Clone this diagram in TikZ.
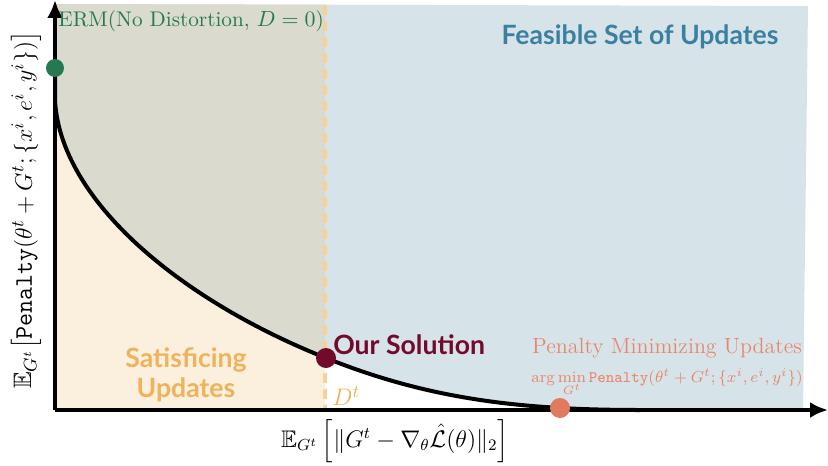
\documentclass[tikz,border=0pt]{standalone}
\usepackage{amsmath,amssymb}
\usepackage{fontspec}
\newfontfamily\labfont{Lato}[UprightFont=* Bold]
\usetikzlibrary{arrows.meta}
\definecolor{cgreen}{HTML}{247A4E}
\definecolor{cred}{HTML}{730A2C}
\definecolor{corange}{HTML}{E07B5F}
\definecolor{csalmon}{HTML}{E8866A}
\definecolor{csat}{HTML}{F0B25A}
\definecolor{cblue}{HTML}{3B80A0}
\definecolor{fgray}{HTML}{DADACE}
\definecolor{fblue}{HTML}{D6E4EA}
\definecolor{fpeach}{HTML}{FBEFDD}
\definecolor{cdash}{HTML}{F7D197}
\tikzset{
  axisline/.style={line width=1.8pt,-{Latex[length=9pt,width=8pt]}},
  frontier/.style={line width=2pt},
  dot/.style={circle,inner sep=0pt,minimum size=9pt},
  boldlab/.style={font=\labfont\fontsize{13.3}{15}\selectfont,align=center},
  mathlab/.style={font=\fontsize{11}{13}\selectfont},
}
\begin{document}
\begin{tikzpicture}[x=0.5pt,y=-0.5pt]
\useasboundingbox (0,0) rectangle (828,465);
\def\curve{(55,68) -- (55,100) .. controls (60,200) and (180,300) .. (326,358) .. controls (428,399) and (520,410) .. (640,410)}
% regions
\fill[fblue] \curve -- (803,410) -- (808,6) -- (55,4) -- cycle;
\begin{scope}
  \clip (55,0) rectangle (325,410);
  \fill[fgray] \curve -- (803,410) -- (808,6) -- (55,4) -- cycle;
  \fill[fpeach] \curve -- (55,410) -- cycle;
\end{scope}
% dashed threshold
\coordinate (dtop) at (325,5);
\coordinate (dbot) at (325,410);
\draw[cdash,line width=2pt,dash pattern=on 5pt off 3pt] (dtop) -- (dbot);
% axes
\coordinate (O) at (55,410);
\coordinate (ytop) at (55,0);
\coordinate (xend) at (828,410);
\draw[axisline] (O) -- (ytop);
\draw[axisline] (O) -- (xend);
% frontier
\draw[frontier] \curve;
% dots
\node[dot,fill=cgreen] (erm) at (55,68) {};
\node[dot,fill=cred,minimum size=10pt] (sol) at (326,358) {};
\node[dot,fill=corange,minimum size=10pt] (pen) at (560,408) {};
% labels
\node[text=cgreen,anchor=west,inner sep=0pt,font=\fontsize{10.6}{13}\selectfont] (ermlab) at (58,21) {ERM(No Distortion, $D=0$)};
\node[boldlab,text=cblue] (feas) at (640,37) {Feasible Set of Updates};
\node[boldlab,text=cred,anchor=west,inner sep=0pt] (ours) at (333,345) {Our Solution};
\node[boldlab,text=csat] (sat) at (186,375) {Satisficing\\Updates};
\node[text=csat,anchor=west,inner sep=0pt,font=\fontsize{13}{15}\selectfont] (dt) at (332,396) {$D^t$};
\node[mathlab,text=csalmon,anchor=base,inner sep=0pt] (penlab) at (667,353) {Penalty Minimizing Updates};
\node[text=csalmon,anchor=north,inner sep=0pt,font=\fontsize{8}{10}\selectfont] (argmin) at (667,368) {$\arg\min\limits_{G^t}\texttt{Penalty}(\theta^t+G^t;\{x^i,e^i,y^i\})$};
\node[font=\fontsize{12}{14}\selectfont] (xlab) at (395,441) {$\mathbb{E}_{G^t}\left[\|G^t-\nabla_\theta\hat{\mathcal{L}}(\theta)\|_2\right]$};
\node[rotate=90,font=\fontsize{12.6}{15}\selectfont,inner sep=0pt] (ylab) at (26,210) {$\mathbb{E}_{G^t}\big[\texttt{Penalty}(\theta^t+G^t;\{x^i,e^i,y^i\})\big]$};
\end{tikzpicture}
\end{document}
